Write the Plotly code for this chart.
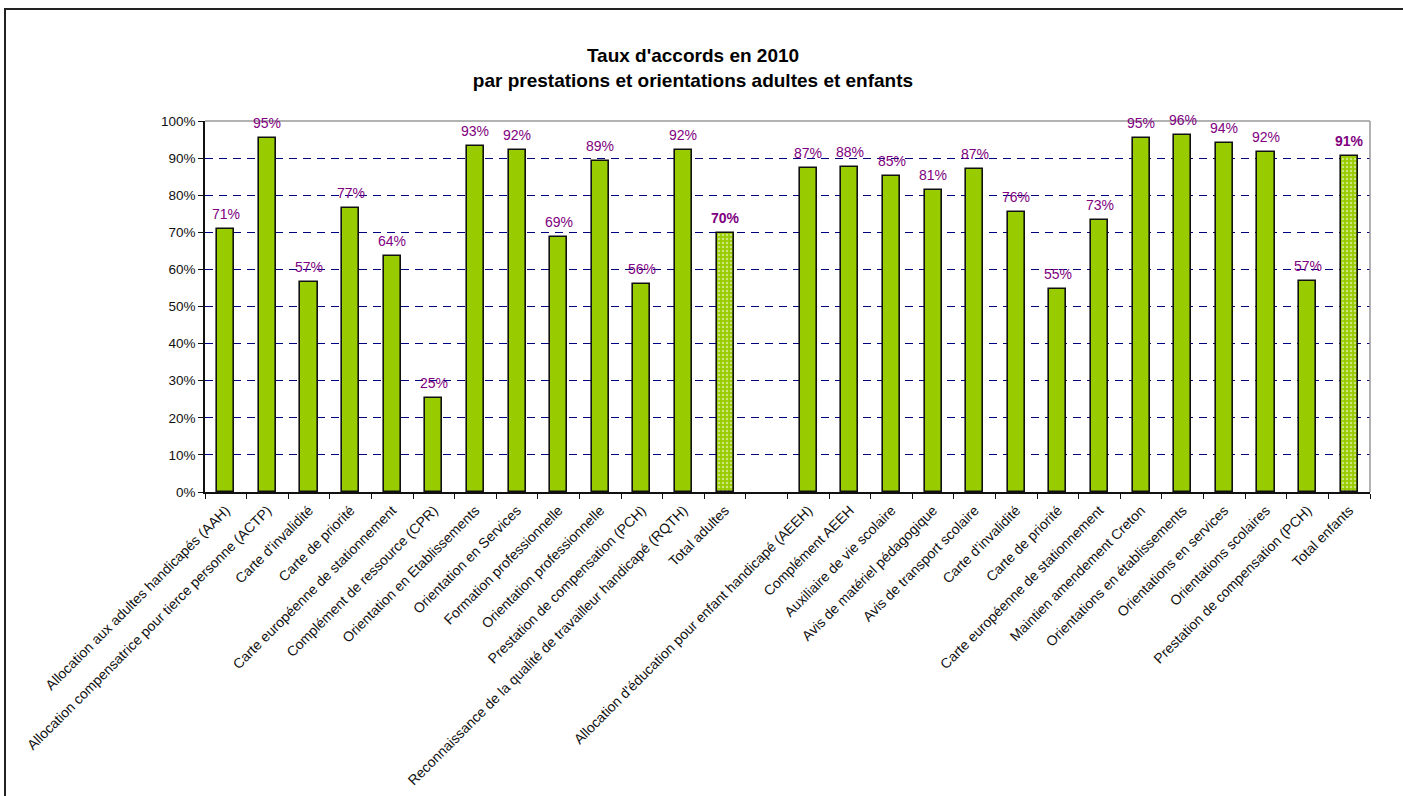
import plotly.graph_objects as go

# ---- data ----
adult_categories = [
    "Allocation aux adultes handicapés (AAH)",
    "Allocation compensatrice pour tierce personne (ACTP)",
    "Carte d'invalidité",
    "Carte de priorité",
    "Carte européenne de stationnement",
    "Complément de ressource (CPR)",
    "Orientation en Etablissements",
    "Orientation en Services",
    "Formation professionnelle",
    "Orientation professionnelle",
    "Prestation de compensation (PCH)",
    "Reconnaissance de la qualité de travailleur handicapé (RQTH)",
    "Total adultes",
]
adult_values = [0.708, 0.953, 0.566, 0.766, 0.637, 0.253, 0.933, 0.921, 0.688, 0.893, 0.562, 0.922, 0.699]

child_categories = [
    "Allocation d'éducation pour enfant handicapé (AEEH)",
    "Complément AEEH",
    "Auxiliaire de vie scolaire",
    "Avis de matériel pédagogique",
    "Avis de transport scolaire",
    "Carte d'invalidité",
    "Carte de priorité",
    "Carte européenne de stationnement",
    "Maintien amendement Creton",
    "Orientations en établissements",
    "Orientations en services",
    "Orientations scolaires",
    "Prestation de compensation (PCH)",
    "Total enfants",
]
child_values = [0.872, 0.876, 0.853, 0.814, 0.871, 0.756, 0.547, 0.733, 0.954, 0.963, 0.942, 0.916, 0.569, 0.906]

title_lines = ["Taux d'accords en 2010", "par prestations et orientations adultes et enfants"]

# ---- layout constants ----
W, H = 1403, 796
ML, MR, MT, MB = 205, 33, 121, 304
PW, PH = W - ML - MR, H - MT - MB
GREEN = "#99CC00"
PURPLE = "#800080"
FONT = "Arial, Liberation Sans, sans-serif"

# positions: adults, one empty slot, children
adult_x = list(range(len(adult_categories)))
child_start = len(adult_categories) + 1
child_x = [child_start + i for i in range(len(child_categories))]
n_slots = child_start + len(child_categories)

fig = go.Figure()


def add_group(xs, vals, cats):
    reg_x = [x for x, c in zip(xs, cats) if not c.startswith("Total")]
    reg_y = [v for v, c in zip(vals, cats) if not c.startswith("Total")]
    tot_x = [x for x, c in zip(xs, cats) if c.startswith("Total")]
    tot_y = [v for v, c in zip(vals, cats) if c.startswith("Total")]
    fig.add_trace(go.Bar(
        x=reg_x, y=reg_y, width=0.41,
        marker=dict(color=GREEN, line=dict(color="#111111", width=1.6)),
        showlegend=False, hoverinfo="skip",
    ))
    fig.add_trace(go.Bar(
        x=tot_x, y=tot_y, width=0.41,
        marker=dict(color=GREEN, line=dict(color="#111111", width=1.6),
                    pattern=dict(shape=".", fgcolor="white", bgcolor=GREEN,
                                 size=4, solidity=0.3)),
        showlegend=False, hoverinfo="skip",
    ))
    for x, v, c in zip(xs, vals, cats):
        bold = c.startswith("Total")
        txt = f"{round(v * 100):d}%"
        fig.add_annotation(
            x=x, y=v, xref="x", yref="y", yanchor="middle", yshift=15,
            text=f"<b>{txt}</b>" if bold else txt, showarrow=False,
            font=dict(family=FONT, size=14, color=PURPLE),
        )


add_group(adult_x, adult_values, adult_categories)
add_group(child_x, child_values, child_categories)

tickvals = adult_x + child_x
ticktext = adult_categories + child_categories


def px_x(p):
    return (p - ML) / PW


def px_y(p):
    return (H - MB - p) / PH


shapes = [
    # outer chart frame
    dict(type="rect", xref="paper", yref="paper",
         x0=px_x(5), x1=px_x(1412), y0=px_y(9), y1=px_y(810),
         line=dict(color="#222222", width=2), layer="below"),
    # plot area top & right border (gray)
    dict(type="line", xref="paper", yref="paper", x0=0, x1=1, y0=1, y1=1,
         line=dict(color="#999999", width=1.5), layer="above"),
    dict(type="line", xref="paper", yref="paper", x0=1, x1=1, y0=0, y1=1,
         line=dict(color="#999999", width=1.5), layer="above"),
]

fig.update_layout(
    width=W, height=H,
    margin=dict(l=ML, r=MR, t=MT, b=MB, autoexpand=False),
    paper_bgcolor="white", plot_bgcolor="white",
    font=dict(family=FONT, color="#111111"),
    title=dict(
        text="<b>" + title_lines[0] + "</b><br><b>" + title_lines[1] + "</b>",
        x=693 / W, xref="container", xanchor="center",
        y=1 - 62 / H, yref="container", yanchor="middle",
        font=dict(family=FONT, size=19, color="#000000"),
    ),
    bargap=0,
    xaxis=dict(
        range=[-0.5, n_slots - 0.5],
        tickmode="array", tickvals=tickvals, ticktext=ticktext,
        tickangle=-45, ticks="", showgrid=False, zeroline=False,
        showline=True, linecolor="#111111", linewidth=1.5,
        tickfont=dict(family=FONT, size=14, color="#111111"),
        ticklabelstandoff=3,
        minor=dict(tickvals=[i - 0.5 for i in range(n_slots + 1)],
                   ticks="outside", ticklen=5, tickcolor="#111111", tickwidth=1,
                   showgrid=False),
        fixedrange=True,
    ),
    yaxis=dict(
        range=[0, 1], tickmode="linear", tick0=0, dtick=0.1, tickformat=".0%",
        ticks="outside", ticklen=5, tickcolor="#111111",
        showgrid=True, gridcolor="#000080", griddash="8px,6px", gridwidth=1,
        zeroline=False, showline=True, linecolor="#111111", linewidth=1.5,
        tickfont=dict(family=FONT, size=13.5, color="#111111"),
        fixedrange=True,
    ),
    shapes=shapes,
)

fig.write_html("out.html", config={"displayModeBar": False},
               post_script="document.body.style.margin='0px';")
